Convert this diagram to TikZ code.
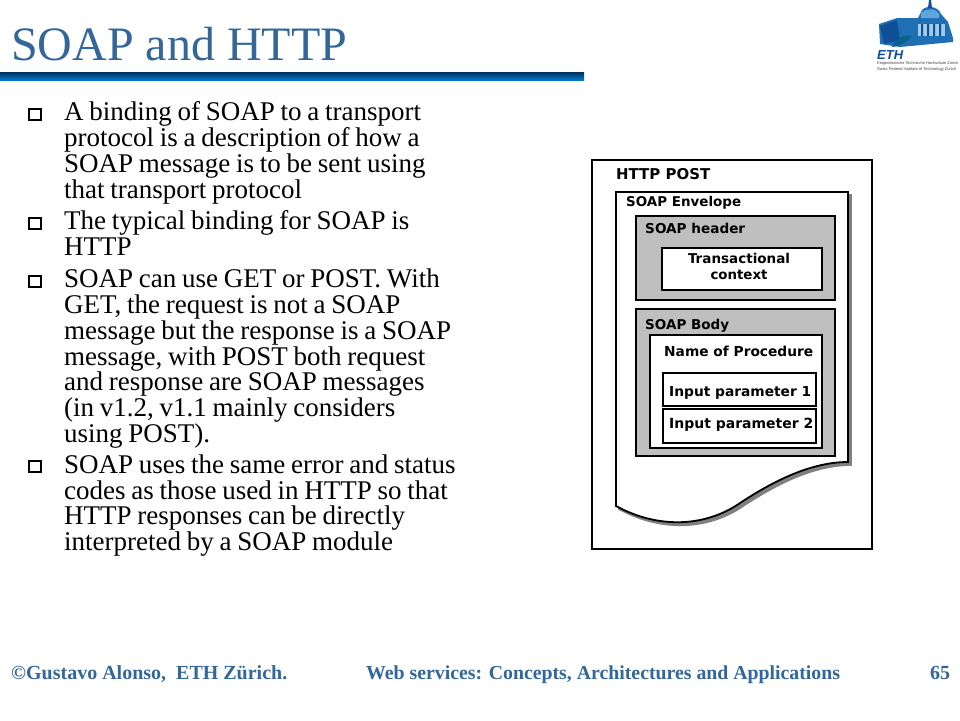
\documentclass[tikz,border=0pt]{standalone}
\usepackage{fontspec}
\usepackage{graphicx}
\setmainfont{Liberation Serif}
\newfontfamily\tightserif[WordSpace=0.85]{Liberation Serif}
\newfontfamily\sketchfont{DejaVu Sans}
\newfontfamily\logofont{Liberation Sans}
\definecolor{titleblue}{HTML}{336699}
\definecolor{panelgray}{HTML}{BFBFBF}
\definecolor{shadowgray}{HTML}{808080}
\definecolor{logoblue}{HTML}{1F6FB5}
\definecolor{logodark}{HTML}{0F4F96}
\definecolor{logolight}{HTML}{5FA6DC}
\definecolor{bartop}{HTML}{002F5F}
\definecolor{barbottom}{HTML}{0078C8}
\tikzset{
  x=1pt,y=-1pt,
  bodyline/.style={anchor=base west,inner sep=0pt,font=\tightserif\fontsize{27}{26}\selectfont,text=black},
  bulletbox/.style={draw=black,line width=2pt,fill=white,minimum width=12pt,minimum height=11pt,inner sep=0pt,outer sep=0pt},
  footer/.style={anchor=base west,inner sep=0pt,font=\fontsize{20}{22}\selectfont\bfseries,text=titleblue},
  sketchbox/.style={draw=black,line width=1.6pt,fill=white,inner sep=0pt,outer sep=0pt},
  graybox/.style={draw=black,line width=1.6pt,fill=panelgray,inner sep=0pt,outer sep=0pt},
  sketchtext/.style={inner sep=0pt,anchor=base west,font=\sketchfont\fontsize{14}{14}\selectfont\bfseries,text=black},
  logotext/.style={anchor=base west,inner sep=0pt,font=\logofont\fontsize{4}{5}\selectfont,text=black!75},
}
\newcommand{\boxnode}[6]{\node[#2,anchor=north west,minimum width=#5pt-#3pt,minimum height=#6pt-#4pt] (#1) at (#3,#4) {};}
\newcommand{\fitw}[2]{\resizebox{#1pt}{!}{#2}}
\begin{document}
\begin{tikzpicture}
\useasboundingbox (0,0) rectangle (960,720);
\fill[white] (0,0) rectangle (960,720);
% title
\node[anchor=base west,inner sep=0pt,font=\fontsize{48}{50}\selectfont,text=titleblue] (title) at (11,60) {SOAP and HTTP};
\shade[top color=bartop,bottom color=barbottom] (0,72) rectangle (584,80);
% bullets
\node[bulletbox] (b1) at (34.5,114) {};
\node[bulletbox] (b2) at (34.5,223) {};
\node[bulletbox] (b3) at (34.5,281) {};
\node[bulletbox] (b4) at (34.5,466) {};
\node[bodyline] (l1) at (64,120.5) {A binding of SOAP to a transport};
\node[bodyline] (l2) at (64,146.5) {protocol is a description of how a};
\node[bodyline] (l3) at (64,172.5) {SOAP message is to be sent using};
\node[bodyline] (l4) at (64,198.5) {that transport protocol};
\node[bodyline] (l5) at (64,229.5) {The typical binding for SOAP is};
\node[bodyline] (l6) at (64,255.5) {HTTP};
\node[bodyline] (l7) at (64,287.5) {SOAP can use GET or POST. With};
\node[bodyline] (l8) at (64,313.5) {GET, the request is not a SOAP};
\node[bodyline] (l9) at (64,339.5) {message but the response is a SOAP};
\node[bodyline] (l10) at (64,365.5) {message, with POST both request};
\node[bodyline] (l11) at (64,390.5) {and response are SOAP messages};
\node[bodyline] (l12) at (64,416.5) {(in v1.2, v1.1 mainly considers};
\node[bodyline] (l13) at (64,442.5) {using POST).};
\node[bodyline] (l14) at (64,473.5) {SOAP uses the same error and status};
\node[bodyline] (l15) at (64,499.5) {codes as those used in HTTP so that};
\node[bodyline] (l16) at (64,524.5) {HTTP responses can be directly};
\node[bodyline] (l17) at (64,550.5) {interpreted by a SOAP module};
% footer
\node[footer] (f1) at (11,679) {©Gustavo Alonso,\ \ ETH Zürich.};
\node[footer,font=\fontsize{19.8}{22}\selectfont\bfseries] (f2) at (366,679) {Web services: Concepts, Architectures and Applications};
\node[footer] (f3) at (930,679) {65};
% diagram
\draw[black,line width=1.8pt,fill=white] (592,160) rectangle (872,549);
\node[sketchtext] (http) at (616,179) {\fitw{94}{HTTP POST}};
% envelope
\filldraw[draw=shadowgray,line width=1.8pt,fill=shadowgray,shift={(3,3)}] (616,192) -- (848,192) -- (848,462) .. controls (812,462) and (775,480) .. (740,503) .. controls (707,526) and (660,530) .. (616,506) -- cycle;
\filldraw[draw=black,line width=1.8pt,fill=white] (616,192) -- (848,192) -- (848,462) .. controls (812,462) and (775,480) .. (740,503) .. controls (707,526) and (660,530) .. (616,506) -- cycle;
\node[sketchtext] (env) at (626,206) {\fitw{115}{SOAP Envelope}};
\boxnode{hdr}{graybox}{636}{216}{835}{300}
\node[sketchtext] (hdrt) at (645,233) {\fitw{100}{SOAP header}};
\boxnode{tx}{sketchbox}{662}{248}{822}{290}
\node[sketchtext,anchor=base] (txt1) at (739,263) {\fitw{102}{Transactional}};
\node[sketchtext,anchor=base] (txt2) at (739,279) {\fitw{57}{context}};
\boxnode{bdy}{graybox}{636}{309}{835}{456}
\node[sketchtext] (bdyt) at (645,329) {\fitw{84}{SOAP Body}};
\boxnode{proc}{sketchbox}{650}{335}{822}{448}
\node[sketchtext] (proct) at (664,356) {\fitw{149}{Name of Procedure}};
\boxnode{ip1}{sketchbox}{663}{373}{816}{406}
\node[sketchtext] (ip1t) at (669,396) {\fitw{142}{Input parameter 1}};
\boxnode{ip2}{sketchbox}{663}{409}{816}{443}
\node[sketchtext] (ip2t) at (669,428) {\fitw{144}{Input parameter 2}};
% logo
\fill[logoblue] (879,24) -- (897,18) -- (918,18) -- (921,12) .. controls (923,5) and (938,5) .. (941,14) -- (948,22) -- (953,38) -- (953,42) -- (900,47) -- (880,44) -- cycle;
\fill[logolight] (921,13) .. controls (926,8) and (936,8) .. (939,14) -- (939,18) -- (921,18) -- cycle;
\fill[logodark] (929,0) -- (931,0) -- (932,8) -- (928,8) -- cycle;
\fill[logodark] (880,26) -- (897,20) -- (900,40) -- (884,44) -- cycle;
\fill[logolight!60!white] (918,24) rectangle (945,36);
\fill[logodark] (921,24) rectangle (923,36) (927,24) rectangle (929,36) (933,24) rectangle (935,36) (939,24) rectangle (941,36);
\fill[logodark!60!teal] (892,47) .. controls (895,38) and (905,34) .. (912,36) .. controls (908,42) and (900,46) .. (892,47) -- cycle;
\node[anchor=base west,inner sep=0pt,font=\logofont\bfseries\itshape,text=logodark] (eth) at (877,59) {\fitw{26}{ETH}};
\node[logotext] (eth1) at (877,64) {\fitw{81}{Eidgenössische Technische Hochschule Zürich}};
\node[logotext] (eth2) at (877,70) {\fitw{79}{Swiss Federal Institute of Technology Zurich}};
\end{tikzpicture}
\end{document}
